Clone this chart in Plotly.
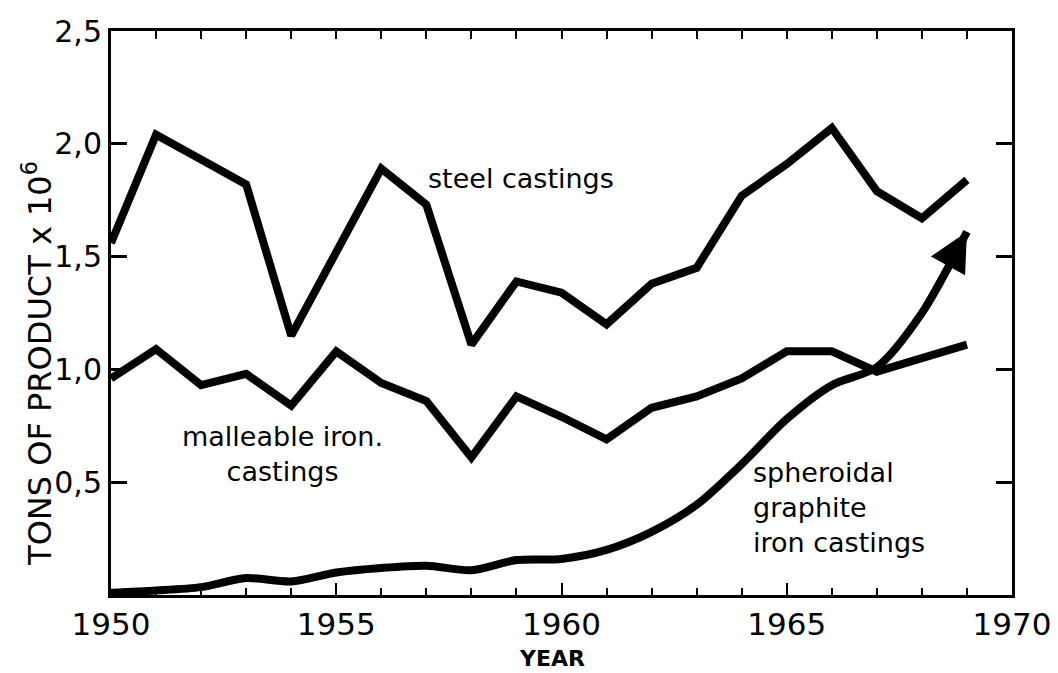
import plotly.graph_objects as go

years = list(range(1950, 1970))
steel = [1.56, 2.04, 1.93, 1.82, 1.15, 1.52, 1.89, 1.73, 1.11, 1.39, 1.34, 1.20,
         1.38, 1.45, 1.77, 1.91, 2.07, 1.79, 1.67, 1.84]
malleable = [0.96, 1.09, 0.93, 0.98, 0.84, 1.08, 0.94, 0.86, 0.61, 0.88, 0.79, 0.69,
             0.83, 0.88, 0.96, 1.08, 1.08, 0.99, 1.05, 1.11]
spheroidal = [0.01, 0.02, 0.035, 0.075, 0.06, 0.10, 0.12, 0.13, 0.11, 0.155, 0.16, 0.20,
              0.28, 0.40, 0.58, 0.78, 0.93, 1.01, 1.25, 1.61]

x_major = [1950, 1955, 1960, 1965, 1970]
y_tickvals = [0.5, 1.0, 1.5, 2.0, 2.5]
y_ticktext = ["0,5", "1,0", "1,5", "2,0", "2,5"]

FONT = "DejaVu Sans"
TXT = dict(family=FONT, size=27, color="black")

fig = go.Figure()
fig.add_trace(go.Scatter(x=years, y=steel, mode="lines",
                         line=dict(color="black", width=8), name="steel castings"))
fig.add_trace(go.Scatter(x=years, y=malleable, mode="lines",
                         line=dict(color="black", width=8), name="malleable iron castings"))
fig.add_trace(go.Scatter(x=years, y=spheroidal, mode="lines",
                         line=dict(color="black", width=8, shape="spline", smoothing=0.8),
                         name="spheroidal graphite iron castings"))
# invisible helper trace carrying the top (mirror) axis with yearly ticks
fig.add_trace(go.Scatter(x=years[:1], y=steel[:1], xaxis="x2", mode="lines",
                         line=dict(width=0), hoverinfo="skip", showlegend=False))

# arrow head at the end of the spheroidal graphite curve
fig.add_annotation(x=years[-1], y=spheroidal[-1], ax=years[-2], ay=spheroidal[-2],
                   xref="x", yref="y", axref="x", ayref="y", text="",
                   showarrow=True, arrowhead=2, arrowsize=1.3, arrowwidth=6,
                   arrowcolor="black", standoff=0)

# series labels
fig.add_annotation(x=1959.1, y=1.845, text="steel castings", showarrow=False,
                   font=TXT, xanchor="center", yanchor="middle")
fig.add_annotation(x=1953.8, y=0.625, text="malleable iron.<br>castings", showarrow=False,
                   font=TXT, xanchor="center", yanchor="middle", align="center")
fig.add_annotation(x=1964.2, y=0.39, text="spheroidal<br>graphite<br>iron castings",
                   showarrow=False, font=TXT, xanchor="left", yanchor="middle",
                   align="left")

# axis titles
fig.add_annotation(xref="paper", yref="paper", x=-0.082, y=0.41,
                   text="TONS OF PRODUCT x 10<sup>6</sup>", textangle=-90,
                   showarrow=False, font=dict(family=FONT, size=32, color="black"),
                   xanchor="center", yanchor="middle")
fig.add_annotation(xref="paper", yref="paper", x=0.49, y=-0.112,
                   text="<b>YEAR</b>", showarrow=False,
                   font=dict(family=FONT, size=22, color="black"),
                   xanchor="center", yanchor="middle")

fig.update_layout(
    template="none",
    width=1050, height=665,
    margin=dict(l=103, r=46, t=23, b=78),
    paper_bgcolor="white", plot_bgcolor="white",
    showlegend=False,
    font=dict(family=FONT, color="black"),
    xaxis=dict(range=[1950, 1970], tickvals=x_major, ticktext=[str(v) for v in x_major],
               ticks="inside", ticklen=12, tickwidth=2, tickcolor="black",
               minor=dict(dtick=1, tick0=1950, ticks="inside", ticklen=7, tickwidth=2,
                          tickcolor="black", showgrid=False),
               showline=True, linewidth=3, linecolor="black", mirror=True,
               showgrid=False, zeroline=False, automargin=False,
               tickfont=dict(family=FONT, size=31, color="black")),
    xaxis2=dict(range=[1950, 1970], overlaying="x", side="top", anchor="y",
                dtick=1, tick0=1950, ticks="inside", ticklen=8, tickwidth=2,
                tickcolor="black", showticklabels=False, showline=False,
                showgrid=False, zeroline=False, automargin=False),
    yaxis=dict(range=[0, 2.5], tickvals=y_tickvals, ticktext=y_ticktext,
               ticks="inside", ticklen=16, tickwidth=3, tickcolor="black",
               showline=True, linewidth=3, linecolor="black", mirror="ticks",
               showgrid=False, zeroline=False, automargin=False,
               tickfont=dict(family=FONT, size=30, color="black")),
)

fig.write_html("out.html")
